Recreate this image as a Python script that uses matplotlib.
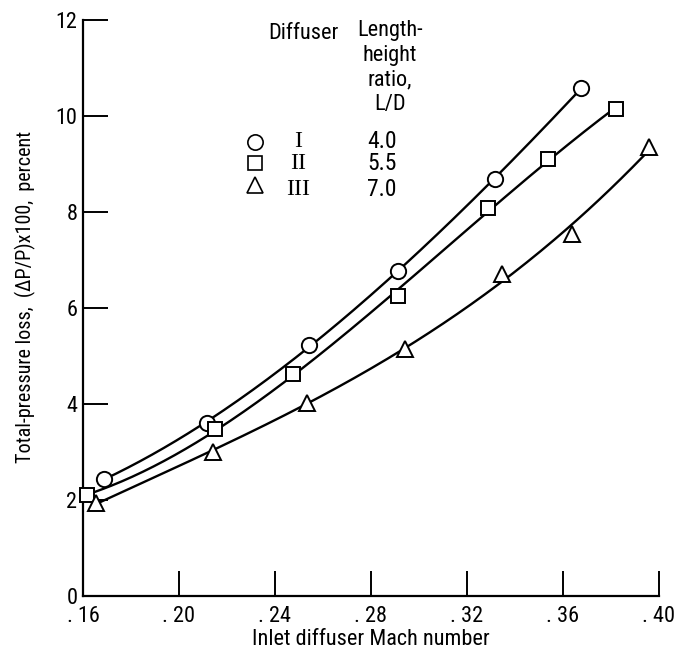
import numpy as np
import matplotlib.pyplot as plt
from matplotlib import font_manager as fm

# Diffuser I (L/D 4.0) - circles
mach_1 = [0.1688, 0.2117, 0.2542, 0.2912, 0.3317, 0.3675]
loss_1 = [2.44, 3.60, 5.23, 6.77, 8.69, 10.58]
# Diffuser II (L/D 5.5) - squares
mach_2 = [0.1617, 0.2150, 0.2475, 0.2912, 0.3287, 0.3537, 0.3821]
loss_2 = [2.10, 3.47, 4.63, 6.25, 8.08, 9.10, 10.15]
# Diffuser III (L/D 7.0) - triangles
mach_3 = [0.1654, 0.2142, 0.2533, 0.2942, 0.3346, 0.3637, 0.3958]
loss_3 = [1.93, 3.00, 4.02, 5.15, 6.71, 7.54, 9.35]

diffusers = ['I', 'II', 'III']
ld_ratio = ['4.0', '5.5', '7.0']
markers = ['o', 's', '^']

xticks = [0.16, 0.20, 0.24, 0.28, 0.32, 0.36, 0.40]
xtick_labels = ['. 16', '. 20', '. 24', '. 28', '. 32', '. 36', '. 40']
yticks = [0, 2, 4, 6, 8, 10, 12]

# pick a condensed sans if one is around
have = set(f.name for f in fm.fontManager.ttflist)
font = 'DejaVu Sans'
for cand in ['Roboto Condensed', 'Archivo Narrow', 'PT Sans Narrow', 'Liberation Sans Narrow',
             'Fira Sans Condensed', 'IBM Plex Sans Condensed', 'Open Sans Condensed']:
    if cand in have:
        font = cand
        break
serif = 'Liberation Serif' if 'Liberation Serif' in have else 'DejaVu Serif'

fig = plt.figure(figsize=(6.74, 6.52), dpi=100)
ax = fig.add_axes([0.1231, 0.0859, 0.8546, 0.8834])

series = [(mach_1, loss_1), (mach_2, loss_2), (mach_3, loss_3)]
for (mx, ly), mk in zip(series, markers):
    # smooth faired curve through the data
    c = np.polyfit(mx, ly, 3)
    xs = np.linspace(min(mx), max(mx), 200)
    ax.plot(xs, np.polyval(c, xs), color='black', lw=1.7, zorder=2)
    ax.plot(mx, ly, linestyle='none', marker=mk, ms=11 if mk != 's' else 10,
            mfc='white', mec='black', mew=1.4, zorder=3, clip_on=False)

ax.set_xlim(0.16, 0.40)
ax.set_ylim(0, 12)
ax.set_xticks(xticks)
ax.set_xticklabels(xtick_labels)
ax.set_yticks(yticks)
for s in ['top', 'right']:
    ax.spines[s].set_visible(False)
for s in ['left', 'bottom']:
    ax.spines[s].set_linewidth(1.6)
ax.tick_params(direction='in', length=18, width=1.4, labelsize=16)
ax.tick_params(axis='x', pad=7)
ax.tick_params(axis='y', pad=4)
for lab in ax.get_xticklabels() + ax.get_yticklabels():
    lab.set_fontfamily(font)

ax.set_xlabel('Inlet diffuser Mach number', fontsize=16, family=font, labelpad=2)
fig.text(25 / 674, 1 - 297 / 652, 'Total-pressure loss,  (\u0394P/P)x100,  percent',
         fontsize=14.5, family=font, rotation=90, ha='center', va='center')

# legend table
ax.text(0.2517, 11.71, 'Diffuser', fontsize=16, family=font, ha='center', va='center')
ax.text(0.2879, 12.0, 'Length-\nheight\nratio,\nL/D', fontsize=16, family=font,
        ha='center', va='top', linespacing=1.22)
row_y = [9.46, 9.02, 8.46]
for mk, d, r, yy in zip(markers, diffusers, ld_ratio, row_y):
    ax.plot([0.2317], [yy + (0.1 if mk == '^' else 0)], marker=mk,
            ms=11 if mk != 's' else 10, mfc='white', mec='black', mew=1.2, linestyle='none')
    ax.text(0.2496, yy, d, fontsize=17, family=serif, ha='center', va='center')
    ax.text(0.2846, yy, r, fontsize=17, family=font, ha='center', va='center')

fig.savefig('out.png', dpi=100)
